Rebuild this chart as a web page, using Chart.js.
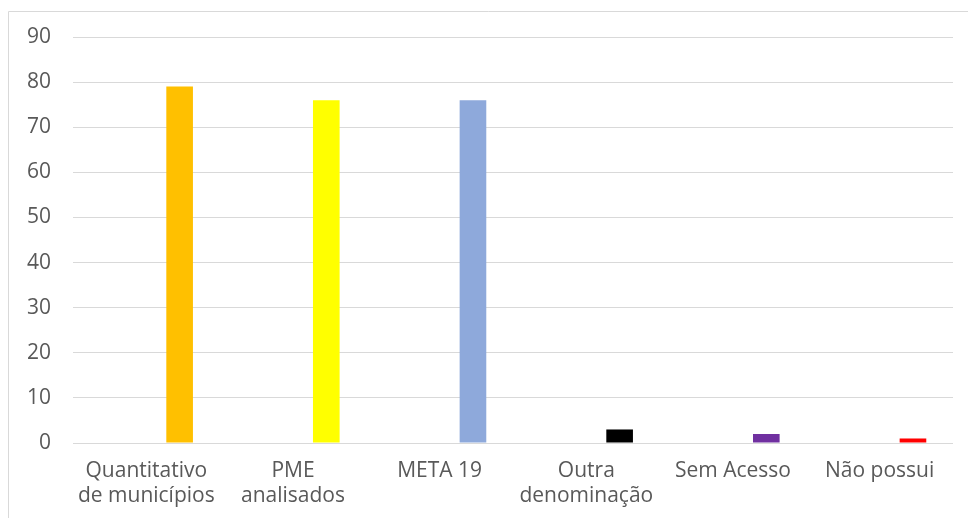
<!DOCTYPE html>
<html>
<head>
<meta charset="utf-8">
<script src="https://cdn.jsdelivr.net/npm/chart.js@4/dist/chart.umd.min.js"></script>
<style>
html,body{margin:0;padding:0;background:#fff;}
#wrap{position:relative;width:968px;height:518px;}
canvas{display:block;}
</style>
</head>
<body>
<div id="wrap"><canvas id="c" width="968" height="518"></canvas></div>
<script>
const categories = [
  ['Quantitativo', 'de municípios'],
  ['PME', 'analisados'],
  'META 19',
  ['Outra', 'denominação'],
  'Sem Acesso',
  'Não possui'
];
const values = [79, 76, 76, 3, 2, 1];
const emptySeries = [null, null, null, null, null, null];
const barColors = ['#FFC000', '#FFFF00', '#8EA9DB', '#000000', '#7030A0', '#FF0000'];
const yMin = 0, yMax = 90, yStep = 10;

const borderPlugin = {
  id: 'frame',
  afterDraw(chart) {
    const ctx = chart.ctx;
    ctx.save();
    ctx.strokeStyle = '#d9d9d9';
    ctx.lineWidth = 1;
    ctx.beginPath();
    ctx.moveTo(8.5, 518);
    ctx.lineTo(8.5, 11.5);
    ctx.lineTo(968, 11.5);
    ctx.stroke();
    ctx.restore();
  }
};

const fontFamily = '"Open Sans", "Noto Sans", sans-serif';

new Chart(document.getElementById('c'), {
  type: 'bar',
  data: {
    labels: categories,
    datasets: [
      { data: emptySeries, backgroundColor: barColors, categoryPercentage: 0.908, barPercentage: 0.4 },
      { data: values, backgroundColor: barColors, categoryPercentage: 0.908, barPercentage: 0.4 }
    ]
  },
  options: {
    responsive: false,
    animation: false,
    devicePixelRatio: 1,
    layout: { padding: { left: 0, right: 15, top: 37, bottom: 0 } },
    plugins: { legend: { display: false }, tooltip: { enabled: false } },
    scales: {
      x: {
        grid: { display: false, drawTicks: false },
        border: { display: false },
        ticks: { color: '#595959', font: { family: fontFamily, size: 21, lineHeight: 1.2 }, padding: 15, maxRotation: 0, autoSkip: false },
        afterFit(scale) { scale.height = 75; }
      },
      y: {
        min: yMin, max: yMax,
        ticks: { stepSize: yStep, color: '#595959', font: { family: fontFamily, size: 21 }, padding: 22 },
        grid: { color: '#d9d9d9', lineWidth: 1, drawTicks: false },
        border: { display: false },
        afterFit(scale) { scale.width = 73; }
      }
    }
  },
  plugins: [borderPlugin]
});
</script>
</body>
</html>
